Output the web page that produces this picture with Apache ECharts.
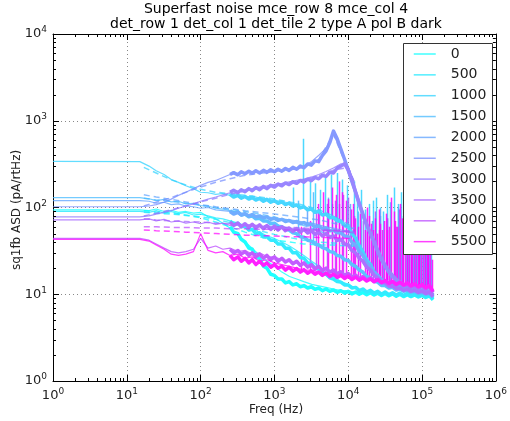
<!DOCTYPE html>
<html>
<head>
<meta charset="utf-8">
<script src="https://cdn.jsdelivr.net/npm/echarts@6/dist/echarts.min.js"></script>
<style>
  html, body { margin: 0; padding: 0; background: #fff; }
  #chart { width: 510px; height: 421px; }
</style>
</head>
<body>
<div id="chart"></div>
<script>
// Bias settings shown in the legend
const BIASES = ['0', '500', '1000', '1500', '2000', '2500', '3000', '3500', '4000', '5500'];
const BIAS_VALUES = [0, 500, 1000, 1500, 2000, 2500, 3000, 3500, 4000, 5500];

// Low-rate spectra (Hz, pA/rtHz)
const LO_FREQ = [1, 15, 20, 25, 32, 40, 50, 63, 80, 100, 126, 160, 200, 250, 320, 400, 500, 630, 800, 1000,
                 1260, 1600, 2000, 2500, 3200, 4000, 5000, 6300, 8000, 10000, 12000];
const LO_0    = [94, 94, 92, 96, 90, 93, 88, 90, 86, 88, 78, 74, 66, 58, 48, 40, 34, 28, 24, 21, 18, 16, 15, 14, 13, 12.5, 12, 11.5, 11, 11, 10.5];
const LO_500  = [90, 90, 88, 92, 86, 90, 85, 88, 82, 84, 80, 76, 74, 70, 66, 62, 56, 52, 47, 44, 40, 36, 32, 28, 24, 21, 18, 16, 14, 13, 12];
const LO_1000 = [340, 338, 300, 265, 240, 210, 195, 178, 165, 150, 148, 142, 145, 138, 140, 132, 135, 128, 126, 120, 118, 112, 108, 100, 95, 88, 82, 74, 66, 58, 52];
const LO_1500 = [130, 130, 126, 120, 124, 116, 118, 110, 112, 105, 104, 98, 96, 92, 88, 84, 80, 76, 70, 66, 60, 54, 48, 44, 40, 36, 33, 30, 27, 24, 22];
const LO_2000 = [120, 120, 118, 112, 115, 108, 110, 104, 102, 98, 100, 94, 92, 90, 86, 84, 82, 80, 78, 76, 74, 72, 70, 68, 66, 63, 60, 58, 55, 52, 50];
const LO_2500 = [102, 102, 104, 108, 115, 125, 138, 150, 165, 180, 195, 205, 222, 240, 248, 255, 250, 258, 262, 262, 268, 275, 280, 300, 340, 400, 480, 700, 450, 270, 185];
const LO_3000 = [78, 78, 80, 84, 88, 92, 98, 104, 110, 118, 125, 132, 140, 148, 155, 160, 165, 172, 178, 185, 190, 198, 205, 212, 225, 240, 260, 285, 320, 290, 200];
const LO_3500 = [72, 72, 74, 70, 73, 68, 70, 66, 68, 65, 68, 64, 66, 62, 64, 62, 63, 60, 61, 59, 60, 58, 57, 56, 56, 55, 54, 54, 53, 52, 52];
const LO_4000 = [44, 44, 42, 38, 34, 31, 30, 31, 33, 44, 34, 36, 33, 34, 31, 32, 29, 30, 27, 27, 25, 24, 23, 22, 21, 20, 19, 18, 17.5, 17, 16];
const LO_5500 = [43, 43, 41, 37, 33, 29, 28, 29, 31, 50, 32, 30, 31, 28, 29, 26, 27, 24, 25, 23, 22, 21, 20, 19, 19, 18, 17, 16.5, 16, 15.5, 15];

// Mid-rate spectra (dashed)
const DASH_FREQ = [17, 25, 40, 63, 100, 160, 250, 400, 630, 1000, 1600, 2500, 4000, 6300, 10000, 12000];
const DASH_0    = [92, 89, 86, 82, 76, 68, 60, 52, 46, 42, 40, 38, 37, 37, 36, 36];
const DASH_500  = [88, 86, 84, 81, 78, 73, 67, 60, 54, 49, 45, 42, 40, 39, 38, 38];
const DASH_1000 = [290, 250, 208, 182, 162, 150, 144, 138, 132, 125, 116, 106, 94, 80, 64, 58];
const DASH_1500 = [128, 122, 118, 112, 106, 100, 95, 90, 84, 78, 70, 62, 54, 46, 38, 35];
const DASH_2000 = [140, 132, 124, 116, 108, 102, 97, 92, 88, 84, 80, 76, 72, 66, 60, 57];
const DASH_2500 = [104, 115, 130, 150, 172, 195, 215, 235, 248, 258, 270, 290, 360, 700, 270, 190];
const DASH_3000 = [80, 86, 94, 104, 116, 128, 142, 155, 166, 178, 192, 208, 230, 270, 290, 200];
const DASH_3500 = [74, 72, 70, 69, 68, 66, 65, 63, 62, 60, 59, 58, 56, 55, 54, 53];
const DASH_4000 = [60, 60, 59, 59, 58, 58, 57, 57, 56, 56, 55, 55, 54, 54, 53, 53];
const DASH_5500 = [55, 54, 53, 52, 51, 50, 49, 48, 47.5, 47, 46, 46, 45, 45, 44, 44];

// High-rate spectra
const HI_FREQ = [250, 280, 320, 355, 400, 450, 500, 560, 630, 710, 790, 890, 1000, 1120, 1260, 1410, 1580, 1780, 2000, 2240,
                 2510, 2820, 3160, 3550, 3980, 4470, 5010, 5620, 6310, 7080, 7940, 8910, 10000, 11200, 12600, 14100, 15800, 17800, 20000, 22400,
                 25100, 28200, 31600, 35500, 39800, 44700, 50100, 56200, 63100, 70800, 79400, 89100, 100000, 112000, 126000, 141000];
const HI_0    = [60, 52, 50, 43, 40, 34, 33, 27, 26, 21, 20, 17, 16.5, 15, 15, 13.5, 14, 12.8, 13.2, 12.2, 12.6, 11.8, 12.2, 11.4, 11.8, 11, 11.5, 10.8,
                 11.2, 10.5, 11, 10.3, 10.8, 10.1, 10.6, 10, 10.5, 9.9, 10.4, 9.8, 10.3, 9.7, 10.2, 9.6, 10.1, 9.5, 10, 9.4, 9.9, 9.4, 9.8, 9.3, 9.7, 9.2, 9.6, 8.6];
const HI_500  = [70, 64, 66, 60, 61, 55, 56, 50, 51, 46, 46, 42, 42, 38, 38, 34, 34, 30, 30, 26.5, 26, 23, 22.5, 20, 19.5, 17.5, 17, 15.5,
                 15, 14, 13.8, 12.8, 12.8, 11.8, 12, 11, 11.5, 10.6, 11.1, 10.3, 10.8, 10, 10.6, 9.9, 10.4, 9.8, 10.3, 9.7, 10.2, 9.6, 10.1, 9.5, 10, 9.4, 9.9, 8.8];
const HI_1000 = [142, 132, 138, 128, 134, 125, 130, 122, 127, 118, 124, 115, 120, 112, 116, 108, 112, 104, 107, 99, 102, 94, 96, 88, 90, 82, 84, 76,
                 77, 70, 70, 62, 60, 50, 44, 36, 31, 25, 22, 18, 16.5, 14.5, 14, 12.8, 12.8, 12, 12.2, 11.5, 11.8, 11.1, 11.4, 10.8, 11, 10.5, 10.7, 9.5];
const HI_1500 = [92, 86, 89, 82, 84, 78, 80, 74, 75, 70, 70, 65, 66, 61, 60, 56, 55, 51, 50, 46, 45.5, 42, 41, 38, 37, 34.5, 33.5, 31,
                 30.5, 28, 27.5, 25, 24.5, 22, 21, 19, 18, 16, 15.5, 14, 13.8, 12.6, 12.6, 11.8, 12, 11.2, 11.5, 10.8, 11.1, 10.5, 10.8, 10.2, 10.5, 10, 10.3, 9.2];
const HI_2000 = [90, 84, 88, 82, 85, 80, 83, 78, 80, 76, 78, 73, 75, 71, 73, 69, 71, 67, 69, 65, 67, 63, 64, 60, 61, 57, 58, 54,
                 55, 51, 51, 47, 46, 40, 37, 31, 28, 23, 21, 17.5, 16.5, 14.5, 14.2, 12.8, 12.9, 12, 12.2, 11.4, 11.7, 11, 11.3, 10.7, 11, 10.4, 10.7, 9.6];
const HI_2500 = [240, 252, 238, 258, 245, 262, 248, 265, 250, 268, 254, 272, 258, 276, 262, 282, 268, 290, 276, 300, 288, 318, 308, 345, 338, 400, 450, 560,
                 760, 620, 470, 360, 270, 200, 150, 110, 82, 62, 50, 40, 31, 25, 21, 18, 16, 14.5, 13.8, 12.6, 12.4, 11.6, 11.6, 11, 11.1, 10.6, 10.8, 9.8];
const HI_3000 = [150, 158, 148, 160, 152, 165, 156, 170, 160, 175, 165, 180, 172, 186, 178, 192, 184, 198, 190, 205, 196, 212, 204, 222, 214, 235, 228, 255,
                 250, 285, 300, 320, 270, 210, 150, 112, 84, 64, 50, 40, 32, 26, 21.5, 18.5, 16.5, 14.8, 13.8, 12.9, 12.5, 11.8, 11.7, 11.2, 11.2, 10.7, 10.9, 9.9];
const HI_3500 = [68, 62, 66, 60, 65, 59, 64, 58, 63, 57, 62, 56, 61, 55, 60, 54, 58, 53, 57, 52, 56, 51, 54, 49, 52, 47, 50, 45,
                 47, 42, 43, 38, 37, 32, 30, 26, 24, 20.5, 19, 16.5, 15.5, 13.8, 13.5, 12.4, 12.4, 11.6, 11.8, 11.1, 11.4, 10.8, 11.1, 10.5, 10.8, 10.2, 10.5, 9.4];
const HI_4000 = [33, 30, 32, 29, 31, 28, 30, 27, 29, 26, 28, 25, 27, 24, 26, 23.5, 25, 22.5, 24, 21.5, 23, 20.5, 22, 19.5, 21, 18.8, 20, 18,
                 19, 17.2, 18.2, 16.5, 17.4, 15.8, 16.6, 15.2, 16, 14.6, 15.4, 14.1, 14.8, 13.6, 14.3, 13.2, 13.9, 12.8, 13.5, 12.5, 13.1, 12.2, 12.8, 11.9, 12.5, 11.6, 12.2, 10.5];
const HI_5500 = [28, 25, 27, 24, 26, 23, 25, 22, 24, 21.5, 23, 20.5, 22, 20, 21, 19, 20.5, 18.5, 19.8, 18, 19.2, 17.5, 18.6, 17, 18, 16.5, 17.6, 16,
                 17, 15.6, 16.6, 15.2, 16.2, 14.8, 15.8, 14.5, 15.4, 14.2, 15, 13.9, 14.7, 13.6, 14.4, 13.3, 14.1, 13, 13.8, 12.8, 13.5, 12.5, 13.2, 12.2, 12.9, 11.9, 12.6, 10.8];

// Narrow pickup lines in the high-rate spectra [Hz, floor, peak] in pA/rtHz
const SPIKES_1000 = [[1780, 105, 170], [2450, 100, 620], [3000, 95, 200], [3600, 88, 190], [4200, 86, 160], [4800, 83, 230], [5800, 76, 240],
                     [7000, 70, 250], [8300, 64, 210], [9500, 60, 180], [11800, 52, 200], [13000, 40, 130], [15000, 30, 160], [17000, 24, 95],
                     [19000, 20, 110], [21500, 18, 120], [24000, 16, 130], [27000, 15, 100], [30000, 14, 90], [33500, 13.5, 140], [37000, 13, 115],
                     [42000, 13, 170], [46500, 12.5, 110], [52000, 12, 150], [56000, 12, 80], [60000, 12, 95], [67000, 11.5, 120], [71000, 11.4, 100],
                     [75000, 11.2, 80], [80000, 11.1, 140], [85000, 11, 110], [90000, 11, 95], [95000, 11, 70], [100000, 10.9, 85], [105000, 10.8, 130],
                     [112000, 10.7, 110], [118000, 10.6, 90], [126000, 10.5, 75], [133000, 10.2, 60]];
const SPIKES_1500 = [[2100, 50, 120], [3300, 40, 150], [6000, 30, 110], [13500, 20, 90], [27000, 14, 80], [47000, 11.5, 100], [80000, 10.8, 85]];
const SPIKES_2000 = [[2800, 63, 100], [5300, 57, 130], [10500, 45, 110], [21000, 19, 70], [34000, 13, 75], [64000, 11.5, 60]];
const SPIKES_3500 = [[4000, 52, 95], [7500, 44, 110], [9800, 38, 130], [16000, 24, 70], [26000, 15, 55], [44000, 12, 60], [70000, 11, 50], [110000, 10.5, 45]];
const SPIKES_4000 = [[3700, 21, 90], [5200, 20, 110], [6700, 18, 120], [8600, 17, 140], [12000, 16, 80], [18000, 15, 65], [23000, 14.5, 90],
                     [33000, 14, 75], [48000, 13.5, 95], [62000, 13, 70], [90000, 12.5, 60], [120000, 12, 75]];
const SPIKES_5500 = [[2300, 18, 60], [3000, 18, 70], [3900, 17.5, 110], [4600, 17, 150], [5400, 16.8, 125], [6100, 16.5, 170], [6800, 16.3, 140],
                     [7600, 16, 200], [8300, 16, 150], [9300, 15.8, 120], [10800, 15.5, 95], [11500, 15.3, 110], [12300, 15, 75], [13600, 15, 60],
                     [14500, 14.9, 85], [16800, 14.8, 55], [17800, 14.6, 100], [19000, 14.5, 80], [20200, 14.4, 65], [21500, 14.3, 55],
                     [22800, 14.2, 75], [24300, 14.2, 50], [25700, 14.1, 95], [27000, 14, 65], [28700, 14, 55], [30500, 14, 70], [32200, 13.9, 85],
                     [34000, 13.8, 55], [36000, 13.7, 60], [38000, 13.6, 130], [41500, 13.5, 90], [43500, 13.4, 70], [46000, 13.3, 60],
                     [49500, 13.2, 110], [53000, 13, 75], [56000, 13, 60], [58000, 13, 45], [62000, 12.9, 80], [66000, 12.8, 55], [70000, 12.7, 65],
                     [74000, 12.6, 45], [78500, 12.6, 70], [83000, 12.5, 60], [87500, 12.4, 50], [92000, 12.3, 40], [97500, 12.2, 70],
                     [103000, 12, 45], [109000, 12, 50], [115000, 12, 35], [122000, 11.9, 55], [130000, 11.8, 30], [138000, 11, 25]];

const LO = [LO_0, LO_500, LO_1000, LO_1500, LO_2000, LO_2500, LO_3000, LO_3500, LO_4000, LO_5500];
const DASH = [DASH_0, DASH_500, DASH_1000, DASH_1500, DASH_2000, DASH_2500, DASH_3000, DASH_3500, DASH_4000, DASH_5500];
const HI = [HI_0, HI_500, HI_1000, HI_1500, HI_2000, HI_2500, HI_3000, HI_3500, HI_4000, HI_5500];
const SPIKES = [[], [], SPIKES_1000, SPIKES_1500, SPIKES_2000, [], [], SPIKES_3500, SPIKES_4000, SPIKES_5500];

// "cool" colour map: cyan -> magenta over the bias range
function coolColor(v) {
  const t = v / BIAS_VALUES[BIAS_VALUES.length - 1];
  return 'rgb(' + Math.round(255 * t) + ',' + Math.round(255 * (1 - t)) + ',255)';
}
// same colour blended toward white (for the opaque high-rate bands)
function softColor(v, k) {
  const t = v / BIAS_VALUES[BIAS_VALUES.length - 1];
  const mix = c => Math.round(c * k + 255 * (1 - k));
  return 'rgb(' + mix(255 * t) + ',' + mix(255 * (1 - t)) + ',255)';
}

const FONT = 'DejaVu Sans';
const chart = echarts.init(document.getElementById('chart'), null, { renderer: 'canvas' });

const series = [];
BIASES.forEach((name, i) => {
  const color = coolColor(BIAS_VALUES[i]);
  series.push({
    name, type: 'line', symbol: 'none', color,
    lineStyle: { width: 1.2, opacity: 0.75 },
    data: LO_FREQ.map((f, j) => [f, LO[i][j]])
  });
  series.push({
    name, type: 'line', symbol: 'none', color,
    lineStyle: { width: 1.5, opacity: 0.7, type: [6, 4] },
    data: DASH_FREQ.map((f, j) => [f, DASH[i][j]])
  });
  series.push({
    name, type: 'line', symbol: 'none', color,
    lineStyle: { width: 3.5, opacity: 1, color: softColor(BIAS_VALUES[i], 0.88), join: 'round' },
    data: HI_FREQ.map((f, j) => [f, HI[i][j]])
  });
  if (SPIKES[i].length) {
    // each pickup line is a vertical stroke from the floor to its peak
    series.push({
      type: 'custom', silent: true, clip: true,
      encode: { x: 0, y: [1, 2] },
      data: SPIKES[i],
      renderItem(params, api) {
        const a = api.coord([api.value(0), api.value(1)]);
        const b = api.coord([api.value(0), api.value(2)]);
        const x = Math.round(a[0]) + 0.5;
        return { type: 'line', shape: { x1: x, y1: a[1], x2: x, y2: b[1] },
                 style: { stroke: color, lineWidth: 1.5, opacity: 0.85 } };
      }
    });
  }
});

// Minor ticks of the log axes (2..9 within every decade), drawn inside the frame on all sides
const minorX = [], minorY = [];
for (let d = 0; d < 6; d++) for (let k = 2; k <= 9; k++) minorX.push([k * Math.pow(10, d), 1]);
for (let d = 0; d < 4; d++) for (let k = 2; k <= 9; k++) minorY.push([1, k * Math.pow(10, d)]);
const MINOR = 3;
function tickLine(x1, y1, x2, y2) {
  return { type: 'line', shape: { x1, y1, x2, y2 }, style: { stroke: '#000', lineWidth: 1 } };
}
series.push({
  type: 'custom', silent: true, clip: false, z: 5,
  data: minorX,
  renderItem(params, api) {
    const cs = params.coordSys;
    const x = Math.round(api.coord([api.value(0), 1])[0]) + 0.5;
    const b = cs.y + cs.height, t = cs.y;
    return { type: 'group', children: [tickLine(x, b, x, b - MINOR), tickLine(x, t, x, t + MINOR)] };
  }
});
series.push({
  type: 'custom', silent: true, clip: false, z: 5,
  data: minorY,
  renderItem(params, api) {
    const cs = params.coordSys;
    const y = Math.round(api.coord([1, api.value(1)])[1]) + 0.5;
    const l = cs.x, r = cs.x + cs.width;
    return { type: 'group', children: [tickLine(l, y, l + MINOR, y), tickLine(r, y, r - MINOR, y)] };
  }
});

const powLabel = v => '{b|10}{s|' + Math.round(Math.log10(v)) + '}';
const labelRich = {
  b: { fontSize: 13, fontFamily: FONT, color: '#222' },
  s: { fontSize: 9, fontFamily: FONT, color: '#222', padding: [0, 0, 8, 0] }
};
const frameLine = { show: true, lineStyle: { color: '#000', width: 1 } };
const majorTick = { show: true, inside: true, length: 6, lineStyle: { color: '#000', width: 1 } };
const gridDots = { show: true, lineStyle: { color: '#888', width: 1, type: [1, 3] } };

const option = {
  animation: false,
  backgroundColor: '#fff',
  grid: { left: 53, top: 34, width: 447, height: 347, containLabel: false },
  xAxis: [
    { type: 'log', logBase: 10, min: 1, max: 1e6, position: 'bottom',
      axisLine: frameLine, axisTick: majorTick, splitLine: gridDots,
      axisLabel: { formatter: powLabel, rich: labelRich, margin: 6 } },
    { type: 'log', logBase: 10, min: 1, max: 1e6, position: 'top',
      axisLine: frameLine, axisTick: majorTick, splitLine: { show: false }, axisLabel: { show: false } }
  ],
  yAxis: [
    { type: 'log', logBase: 10, min: 1, max: 1e4, position: 'left',
      axisLine: frameLine, axisTick: majorTick, splitLine: gridDots,
      axisLabel: { formatter: powLabel, rich: labelRich, margin: 6 } },
    { type: 'log', logBase: 10, min: 1, max: 1e4, position: 'right',
      axisLine: frameLine, axisTick: majorTick, splitLine: { show: false }, axisLabel: { show: false } }
  ],
  legend: {
    orient: 'vertical', left: 413, top: 47, padding: 0,
    itemWidth: 22, itemHeight: 14, itemGap: 6.85,
    selectedMode: false, data: BIASES,
    itemStyle: { opacity: 0 },
    lineStyle: { width: 1.5, opacity: 0.75 },
    textStyle: { fontSize: 14, fontFamily: FONT, color: '#222', padding: [0, 0, 0, 10], lineHeight: 14 }
  },
  graphic: [
    { type: 'rect', z: 3, shape: { x: 403.5, y: 43.5, width: 89, height: 211 },
      style: { fill: '#fff', stroke: '#333', lineWidth: 1 } },
    { type: 'text', x: 276, y: 9.5, style: { text: 'Superfast noise mce_row 8 mce_col 4', font: '14px "DejaVu Sans"',
      fill: '#000', textAlign: 'center', textVerticalAlign: 'middle' } },
    { type: 'text', x: 276, y: 24, style: { text: 'det_row 1 det_col 1 det_tile 2 type A pol B dark', font: '14px "DejaVu Sans"',
      fill: '#000', textAlign: 'center', textVerticalAlign: 'middle' } },
    { type: 'text', x: 276, y: 410, style: { text: 'Freq (Hz)', font: '12px "DejaVu Sans"',
      fill: '#222', textAlign: 'center', textVerticalAlign: 'middle' } },
    { type: 'text', x: 17, y: 210, rotation: Math.PI / 2, style: { text: 'sq1fb ASD (pA/rtHz)', font: '12px "DejaVu Sans"',
      fill: '#222', textAlign: 'center', textVerticalAlign: 'middle' } }
  ],
  series
};
chart.setOption(option);
</script>
</body>
</html>
